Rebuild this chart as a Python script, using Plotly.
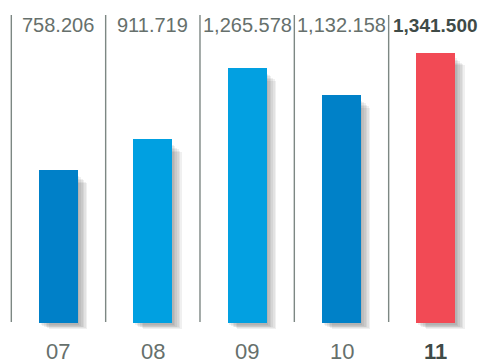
import plotly.graph_objects as go

categories = ["07", "08", "09", "10", "11"]
values = [758.206, 911.719, 1265.578, 1132.158, 1341.500]
value_labels = ["758.206", "911.719", "1,265.578", "1,132.158", "1,341.500"]
bar_colors = ["#0080C8", "#00A0E1", "#02A0E1", "#0081C8", "#F24A55"]
highlight = [False, False, False, False, True]

W, H = 483, 363
x = list(range(len(categories)))
bar_w = 0.41

fig = go.Figure()

# soft drop shadows (layered translucent bars)
for k in range(1, 7):
    fig.add_trace(go.Bar(
        x=x, y=[v - 15 - 3 * k for v in values], base=[-6 - 4 * k] * len(values),
        width=bar_w, offset=-bar_w / 2 + 0.017 * k,
        marker=dict(color="rgba(50,50,50,0.075)", line=dict(width=0)),
        hoverinfo="skip", showlegend=False,
    ))

fig.add_trace(go.Bar(
    x=x, y=values, width=bar_w, offset=-bar_w / 2,
    marker=dict(color=bar_colors, line=dict(width=0)),
    showlegend=False,
))

shapes = []
for i in range(len(categories)):
    shapes.append(dict(type="line", xref="x", yref="paper",
                       x0=i - 0.5, x1=i - 0.5, y0=1 - 322 / H, y1=1 - 15 / H,
                       line=dict(color="#7d8783", width=1.4)))

annotations = []
for i, (lab, cat, hl) in enumerate(zip(value_labels, categories, highlight)):
    annotations.append(dict(
        x=i, y=1 - 25 / H, xref="x", yref="paper", showarrow=False,
        text=f"<b>{lab}</b>" if hl else lab, xanchor="center", yanchor="middle",
        font=dict(family="Liberation Sans, Arial, sans-serif", size=19 if hl else 20,
                  color="#3f4b47" if hl else "#66706c"),
    ))
    annotations.append(dict(
        x=i, y=1 - 351 / H, xref="x", yref="paper", showarrow=False,
        text=f"<b>{cat}</b>" if hl else cat, xanchor="center", yanchor="middle",
        font=dict(family="Liberation Sans, Arial, sans-serif", size=22,
                  color="#3f4b47" if hl else "#66706c"),
    ))

px_per_unit = 0.2015
ymin = -40 / px_per_unit
ymax = ymin + H / px_per_unit

fig.update_layout(
    width=W, height=H, margin=dict(l=0, r=0, t=0, b=0),
    paper_bgcolor="white", plot_bgcolor="white",
    barmode="overlay", bargap=0,
    xaxis=dict(range=[-0.62, 4.5], visible=False, fixedrange=True),
    yaxis=dict(range=[ymin, ymax], visible=False, fixedrange=True),
    shapes=shapes, annotations=annotations,
)

fig.write_html("out.html")
